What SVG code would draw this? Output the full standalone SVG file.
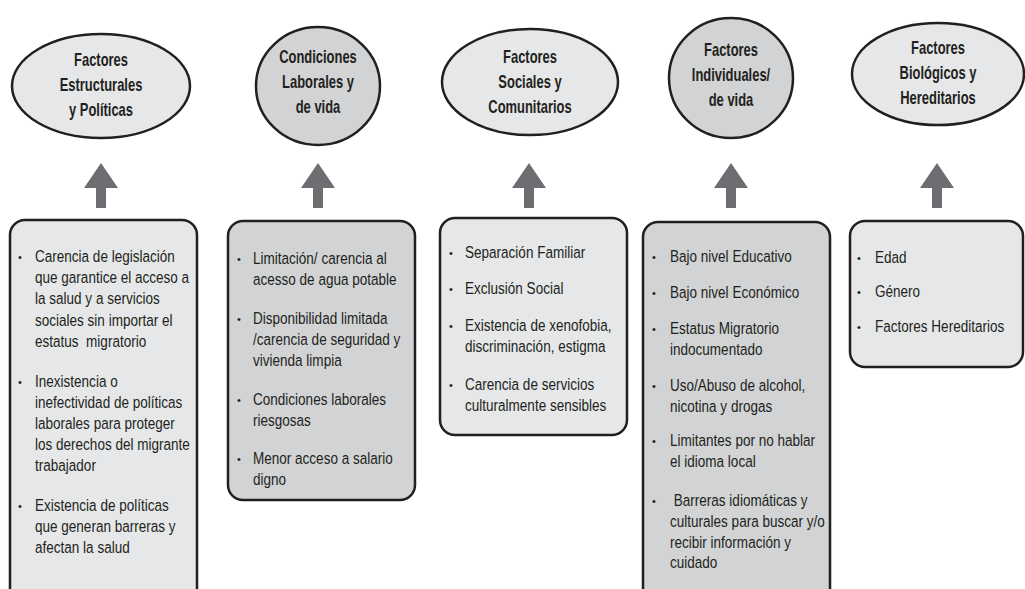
<svg xmlns="http://www.w3.org/2000/svg" width="1025" height="589" viewBox="0 0 1025 589">
<style>
text{font-family:"Liberation Sans",Arial,sans-serif;fill:#231f20}
.h{font-size:17.5px;font-weight:bold;text-anchor:middle}
.t{font-size:16.5px}
.b{font-size:11px}
.lt{fill:#e6e7e8;stroke:#231f20;stroke-width:2.5}
.dk{fill:#d1d3d4;stroke:#231f20;stroke-width:2.5}
.arr{fill:#6d6e71}
</style>
<rect width="1025" height="589" fill="#ffffff"/>
<g id="connectors">
<path class="arr" d="M101,163 L118,188 L106,188 L106,208 L96,208 L96,188 L84,188 Z"/>
<path class="arr" d="M318,163 L335,188 L323,188 L323,208 L313,208 L313,188 L301,188 Z"/>
<path class="arr" d="M529,163 L546,188 L534,188 L534,208 L524,208 L524,188 L512,188 Z"/>
<path class="arr" d="M731,163 L748,188 L736,188 L736,208 L726,208 L726,188 L714,188 Z"/>
<path class="arr" d="M937,163 L954,188 L942,188 L942,208 L932,208 L932,188 L920,188 Z"/>
</g>
<g id="node-estructurales">
<ellipse class="lt" cx="101" cy="86" rx="89" ry="52"/>
<g transform="translate(101 0) scale(0.74 1)">
<text class="h" x="0" y="66">Factores</text>
<text class="h" x="0" y="91">Estructurales</text>
<text class="h" x="0" y="116">y Políticas</text>
</g>
</g>
<g id="node-laborales">
<ellipse class="dk" cx="318" cy="86" rx="62" ry="59"/>
<g transform="translate(318 0) scale(0.74 1)">
<text class="h" x="0" y="63">Condiciones</text>
<text class="h" x="0" y="88">Laborales y</text>
<text class="h" x="0" y="113">de vida</text>
</g>
</g>
<g id="node-sociales">
<ellipse class="lt" cx="530" cy="82" rx="88" ry="53"/>
<g transform="translate(530 0) scale(0.74 1)">
<text class="h" x="0" y="63">Factores</text>
<text class="h" x="0" y="88">Sociales y</text>
<text class="h" x="0" y="113">Comunitarios</text>
</g>
</g>
<g id="node-individuales">
<ellipse class="dk" cx="731" cy="78" rx="62" ry="60"/>
<g transform="translate(731 0) scale(0.74 1)">
<text class="h" x="0" y="56">Factores</text>
<text class="h" x="0" y="81">Individuales/</text>
<text class="h" x="0" y="106">de vida</text>
</g>
</g>
<g id="node-biologicos">
<ellipse class="lt" cx="938" cy="74" rx="86" ry="51"/>
<g transform="translate(938 0) scale(0.74 1)">
<text class="h" x="0" y="54">Factores</text>
<text class="h" x="0" y="79">Biológicos y</text>
<text class="h" x="0" y="104">Hereditarios</text>
</g>
</g>
<g id="box-estructurales">
<rect class="lt" x="10" y="220" width="187" height="390" rx="15"/>
<text class="b" x="18" y="261">•</text>
<text class="b" x="18" y="386">•</text>
<text class="b" x="18" y="510">•</text>
<g transform="translate(35 0) scale(0.82 1)">
<text class="t" x="0" y="262">Carencia de legislación</text>
<text class="t" x="0" y="283">que garantice el acceso a</text>
<text class="t" x="0" y="304">la salud y a servicios</text>
<text class="t" x="0" y="326">sociales sin importar el</text>
<text class="t" x="0" y="347" xml:space="preserve">estatus  migratorio</text>
<text class="t" x="0" y="387">Inexistencia o</text>
<text class="t" x="0" y="408">inefectividad de políticas</text>
<text class="t" x="0" y="429">laborales para proteger</text>
<text class="t" x="0" y="450">los derechos del migrante</text>
<text class="t" x="0" y="471">trabajador</text>
<text class="t" x="0" y="511">Existencia de políticas</text>
<text class="t" x="0" y="532">que generan barreras y</text>
<text class="t" x="0" y="553">afectan la salud</text>
</g>
</g>
<g id="box-laborales">
<rect class="dk" x="228" y="221" width="187" height="279" rx="15"/>
<text class="b" x="237" y="263">•</text>
<text class="b" x="237" y="323">•</text>
<text class="b" x="237" y="404">•</text>
<text class="b" x="237" y="463">•</text>
<g transform="translate(253 0) scale(0.82 1)">
<text class="t" x="0" y="264">Limitación/ carencia al</text>
<text class="t" x="0" y="285">acesso de agua potable</text>
<text class="t" x="0" y="324">Disponibilidad limitada</text>
<text class="t" x="0" y="345">/carencia de seguridad y</text>
<text class="t" x="0" y="366">vivienda limpia</text>
<text class="t" x="0" y="405">Condiciones laborales</text>
<text class="t" x="0" y="426">riesgosas</text>
<text class="t" x="0" y="464">Menor acceso a salario</text>
<text class="t" x="0" y="485">digno</text>
</g>
</g>
<g id="box-sociales">
<rect class="lt" x="440" y="218" width="187" height="217" rx="15"/>
<text class="b" x="449" y="257">•</text>
<text class="b" x="449" y="293">•</text>
<text class="b" x="449" y="330">•</text>
<text class="b" x="449" y="389">•</text>
<g transform="translate(465 0) scale(0.82 1)">
<text class="t" x="0" y="258">Separación Familiar</text>
<text class="t" x="0" y="294">Exclusión Social</text>
<text class="t" x="0" y="331">Existencia de xenofobia,</text>
<text class="t" x="0" y="352">discriminación, estigma</text>
<text class="t" x="0" y="390">Carencia de servicios</text>
<text class="t" x="0" y="411">culturalmente sensibles</text>
</g>
</g>
<g id="box-individuales">
<rect class="dk" x="643" y="222" width="187" height="390" rx="15"/>
<text class="b" x="652" y="261">•</text>
<text class="b" x="652" y="297">•</text>
<text class="b" x="652" y="333">•</text>
<text class="b" x="652" y="390">•</text>
<text class="b" x="652" y="445">•</text>
<text class="b" x="652" y="505">•</text>
<g transform="translate(670 0) scale(0.82 1)">
<text class="t" x="0" y="262">Bajo nivel Educativo</text>
<text class="t" x="0" y="298">Bajo nivel Económico</text>
<text class="t" x="0" y="334">Estatus Migratorio</text>
<text class="t" x="0" y="355">indocumentado</text>
<text class="t" x="0" y="391">Uso/Abuso de alcohol,</text>
<text class="t" x="0" y="412">nicotina y drogas</text>
<text class="t" x="0" y="446">Limitantes por no hablar</text>
<text class="t" x="0" y="467">el idioma local</text>
<text class="t" x="0" y="506" xml:space="preserve"> Barreras idiomáticas y</text>
<text class="t" x="0" y="527">culturales para buscar y/o</text>
<text class="t" x="0" y="548">recibir información y</text>
<text class="t" x="0" y="568">cuidado</text>
</g>
</g>
<g id="box-biologicos">
<rect class="lt" x="850" y="221" width="173" height="146" rx="15"/>
<text class="b" x="857" y="262">•</text>
<text class="b" x="857" y="296">•</text>
<text class="b" x="857" y="331">•</text>
<g transform="translate(875 0) scale(0.82 1)">
<text class="t" x="0" y="263">Edad</text>
<text class="t" x="0" y="297">Género</text>
<text class="t" x="0" y="332">Factores Hereditarios</text>
</g>
</g>
</svg>
